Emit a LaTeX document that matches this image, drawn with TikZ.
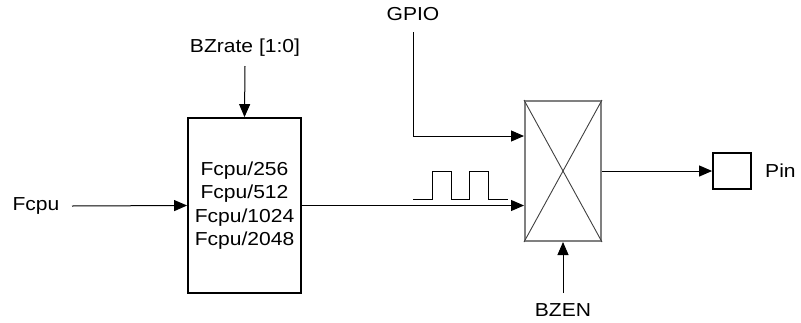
\documentclass[tikz,border=0pt]{standalone}
\usepackage{fontspec}
\setmainfont[FakeStretch=1.12]{Liberation Sans}
\usetikzlibrary{arrows.meta}
\begin{document}
\begin{tikzpicture}[x=1pt,y=-1pt,
  every node/.style={font=\fontsize{18.8}{23.5}\selectfont},
  lbl/.style={inner sep=0pt},
  arr/.style={-{Triangle[length=13pt,width=11pt]},line width=1pt},
  thickbox/.style={draw,line width=1.8pt,inner sep=0pt},
  muxbox/.style={draw=black!50,line width=2pt,inner sep=0pt,minimum width=76pt,minimum height=140pt}]
\useasboundingbox (0,0) rectangle (801,322);
% blocks
\node[thickbox,minimum width=113pt,minimum height=175pt,align=center] (div) at (244.5,205.5) {Fcpu/256\\Fcpu/512\\Fcpu/1024\\Fcpu/2048};
\node[muxbox] (mux) at (563,171) {};
\draw[black!75,line width=0.9pt] (mux.north west) -- (mux.south east);
\draw[black!75,line width=0.9pt] (mux.north east) -- (mux.south west);
\node[thickbox,minimum width=38pt,minimum height=36pt] (pin) at (732,171) {};
% labels
\node[lbl] (bzr) at (245,48) {BZrate [1:0]};
\node[lbl] (gpio) at (413,14) {GPIO};
\node[lbl] (bzen) at (563,310) {BZEN};
\node[lbl] (fcpu) at (36,206) {Fcpu};
\node[lbl,anchor=west] (pinl) at (765,171) {Pin};
% free ends
\coordinate (bzrs) at (245,66);
\coordinate (gpios) at (413,32);
\coordinate (bzens) at (563,293);
\coordinate (fcpus) at (72,206);
% connectors
\draw[arr] (bzrs) -- (div.north);
\draw[arr] (fcpus) -- (div.west);
\draw[arr] (div.east) -- (div.east -| mux.west);
\draw[arr] (gpios) |- ([yshift=35pt]mux.west);
\draw[arr] (bzens) -- (mux.south);
\draw[arr] (mux.east) -- (pin.west);
% pulse
\draw[line width=1pt] (413,199) -- (432,199) -- (432,171) -- (451,171) -- (451,199) -- (469,199) -- (469,171) -- (488,171) -- (488,199) -- (508,199);
\end{tikzpicture}
\end{document}
